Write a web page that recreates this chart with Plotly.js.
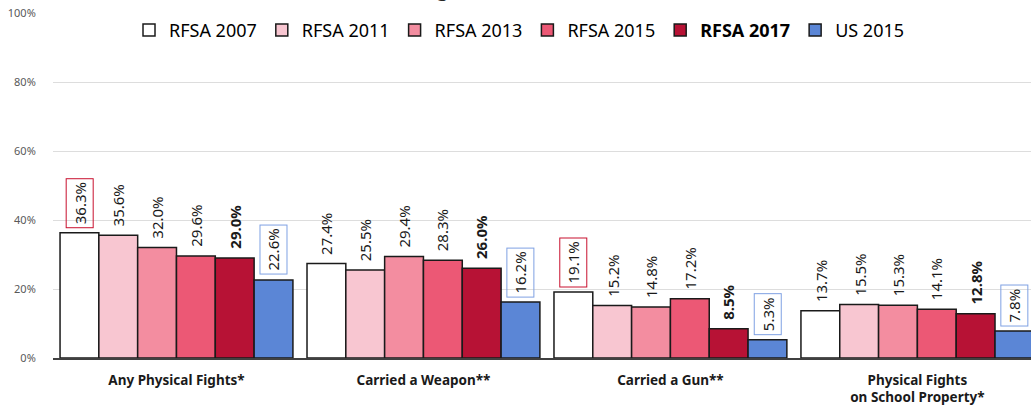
<!DOCTYPE html>
<html>
<head>
<meta charset="utf-8">
<script src="https://cdn.plot.ly/plotly-3.0.1.min.js"></script>
<style>html,body{margin:0;padding:0;background:#fff;}#chart{width:1031px;height:406px;}</style>
</head>
<body>
<div id="chart"></div>
<script>
const categories = ["Any Physical Fights*", "Carried a Weapon**", "Carried a Gun**", "Physical Fights<br>on School Property*"];
const seriesNames = ["RFSA 2007", "RFSA 2011", "RFSA 2013", "RFSA 2015", "RFSA 2017", "US 2015"];
const rfsa2007 = [36.3, 27.4, 19.1, 13.7];
const rfsa2011 = [35.6, 25.5, 15.2, 15.5];
const rfsa2013 = [32.0, 29.4, 14.8, 15.3];
const rfsa2015 = [29.6, 28.3, 17.2, 14.1];
const rfsa2017 = [29.0, 26.0, 8.5, 12.8];
const us2015 = [22.6, 16.2, 5.3, 7.8];
const yTicks = [0, 20, 40, 60, 80, 100];
const yTickLabels = ["0%", "20%", "40%", "60%", "80%", "100%"];
const titleText = "(High School Students)";
// which labels are boxed (series index -> category indices)
const redBoxed = {0: [0, 2]};

const allSeries = [rfsa2007, rfsa2011, rfsa2013, rfsa2015, rfsa2017, us2015];
const colors = ["#FFFFFF", "#F8C6D1", "#F38DA0", "#EC5875", "#B71235", "#5B86D6"];
const FONT = "'Noto Sans', 'Open Sans', sans-serif";
const bargap = 0.057;
const xIdx = categories.map((c, i) => i);

const traces = allSeries.map((vals, j) => ({
  type: "bar",
  name: j === 4 ? "<b>" + seriesNames[j] + "</b>" : seriesNames[j],
  x: xIdx,
  y: vals,
  marker: {color: colors[j], line: {color: "#1a1a1a", width: 1.5}},
  hoverinfo: "y"
}));

const nS = allSeries.length;
const bw = (1 - bargap) / nS;
const annotations = [];
allSeries.forEach((vals, j) => {
  vals.forEach((v, i) => {
    let border = "rgba(0,0,0,0)";
    if (j === 5) border = "#7FA1E3";
    if (redBoxed[j] && redBoxed[j].indexOf(i) >= 0) border = "#C8102E";
    const txt = v.toFixed(1) + "%";
    annotations.push({
      x: i + (j - (nS - 1) / 2) * bw,
      y: v,
      xref: "x", yref: "y",
      text: j === 4 ? "<b>" + txt + "</b>" : txt,
      textangle: -90,
      showarrow: false,
      xanchor: "center", yanchor: "bottom",
      yshift: 5,
      bordercolor: border, borderwidth: 1, borderpad: 3,
      font: {family: FONT, size: 15, color: "#1a1a1a"}
    });
  });
});
// title, mostly above the top edge as in the reference
annotations.push({
  xref: "paper", yref: "paper", x: 0.4785, y: 1, yanchor: "bottom", yshift: 9,
  text: titleText, showarrow: false,
  font: {family: FONT, size: 21, color: "#262626"}
});

const layout = {
  width: 1031, height: 406,
  margin: {l: 53, r: 0, t: 13, b: 48},
  paper_bgcolor: "#fff", plot_bgcolor: "#fff",
  font: {family: FONT},
  barmode: "group", bargap: bargap, bargroupgap: 0,
  showlegend: true,
  legend: {orientation: "h", x: 0.477, xanchor: "center", y: 0.95, yanchor: "middle",
           font: {family: FONT, size: 18, color: "#000000"}, bgcolor: "rgba(0,0,0,0)",
           itemwidth: 30, traceorder: "normal"},
  xaxis: {type: "linear", range: [-0.5, 3.46], tickvals: xIdx, ticktext: categories.map(c => "<b>" + c + "</b>"),
          showgrid: false, zeroline: false, showline: true, linecolor: "#404040", linewidth: 1.5,
          ticks: "outside", ticklen: 9, tickcolor: "rgba(0,0,0,0)",
          tickfont: {family: FONT, size: 13.5, color: "#1a1a1a"}, fixedrange: true},
  yaxis: {range: [0, 100], tickvals: yTicks, ticktext: yTickLabels, showgrid: true, gridcolor: "#DDDDDD",
          gridwidth: 1, zeroline: false, showline: false, ticks: "outside", ticklen: 14, tickcolor: "rgba(0,0,0,0)",
          tickfont: {family: FONT, size: 11, color: "#595959"}, fixedrange: true},
  annotations: annotations
};

Plotly.newPlot("chart", traces, layout, {displayModeBar: false, staticPlot: true});
</script>
</body>
</html>
